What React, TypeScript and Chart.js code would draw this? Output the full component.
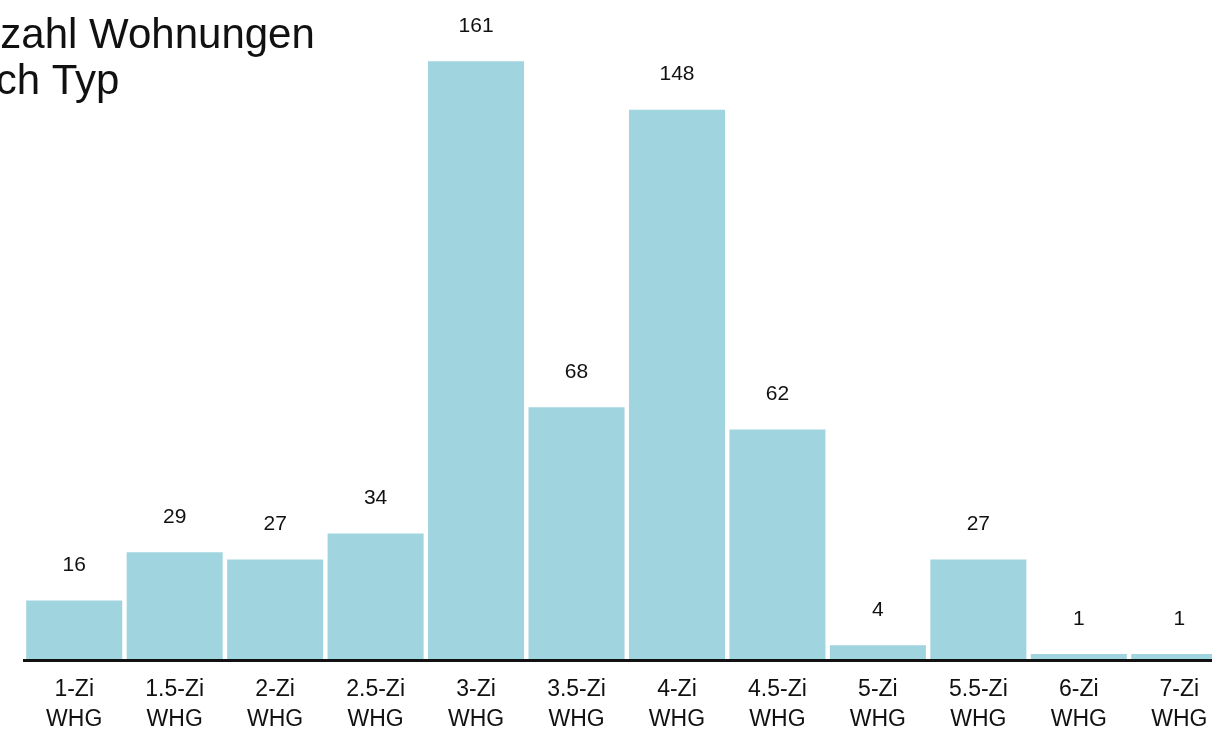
import React, { useEffect, useRef } from "react";
import { Chart, registerables } from "chart.js";

Chart.register(...registerables);

const titleLines = ["Anzahl Wohnungen", "nach Typ"];
const roomTypes = ["1-Zi", "1.5-Zi", "2-Zi", "2.5-Zi", "3-Zi", "3.5-Zi", "4-Zi", "4.5-Zi", "5-Zi", "5.5-Zi", "6-Zi", "7-Zi"];
const unitLabel = "WHG";
const counts = [16, 29, 27, 34, 161, 68, 148, 62, 4, 27, 1, 1];

const FONT = "'Liberation Sans', Arial, sans-serif";
const TEXT = "#111111";
const BAR = "#a0d5df";

const overlayPlugin = {
  id: "overlay",
  afterDatasetsDraw(chart: any) {
    const ctx = chart.ctx;
    const meta = chart.getDatasetMeta(0);
    ctx.save();
    ctx.font = `21px ${FONT}`;
    ctx.fillStyle = TEXT;
    ctx.textAlign = "center";
    ctx.textBaseline = "middle";
    meta.data.forEach((bar: any, i: number) => {
      ctx.fillText(String(counts[i]), bar.x, bar.y - 35);
    });
    ctx.restore();
  },
  afterDraw(chart: any) {
    const ctx = chart.ctx;
    ctx.save();
    ctx.font = `42px ${FONT}`;
    ctx.fillStyle = TEXT;
    ctx.textAlign = "left";
    ctx.textBaseline = "alphabetic";
    ctx.fillText(titleLines[0], 9, 48);
    ctx.fillText(titleLines[1], 9, 94);
    ctx.restore();
  },
};

export default function App() {
  const ref = useRef<HTMLCanvasElement | null>(null);

  useEffect(() => {
    if (!ref.current) return;
    const chart = new Chart(ref.current, {
      type: "bar",
      data: {
        labels: roomTypes.map((t) => [t, unitLabel]),
        datasets: [
          {
            data: counts,
            backgroundColor: BAR,
            borderWidth: 0,
            barPercentage: 0.956,
            categoryPercentage: 1,
            minBarLength: 6,
          },
        ],
      },
      options: {
        animation: false,
        responsive: true,
        maintainAspectRatio: false,
        layout: { padding: { left: 84, right: 10.5, top: 0, bottom: 0 } },
        plugins: {
          legend: { display: false },
          title: { display: false },
          tooltip: { enabled: false },
        },
        scales: {
          x: {
            grid: { display: false, drawTicks: false },
            border: { display: true, color: TEXT, width: 3, z: 1 },
            ticks: {
              color: TEXT,
              font: { family: FONT, size: 23, lineHeight: 1.3 },
              padding: 15,
              maxRotation: 0,
              autoSkip: false,
            },
            afterFit: (scale: any) => {
              scale.height = 71;
            },
          },
          y: {
            display: false,
            min: 0,
            max: 177.5,
          },
        },
      },
      plugins: [overlayPlugin],
    });
    return () => chart.destroy();
  }, []);

  return (
    <div style={{ position: "fixed", left: 0, top: 0, width: 1212, height: 731, overflow: "hidden", background: "#fff" }}>
      <div style={{ position: "absolute", left: -60, top: 0, width: 1300, height: 731 }}>
        <canvas ref={ref} />
      </div>
    </div>
  );
}
